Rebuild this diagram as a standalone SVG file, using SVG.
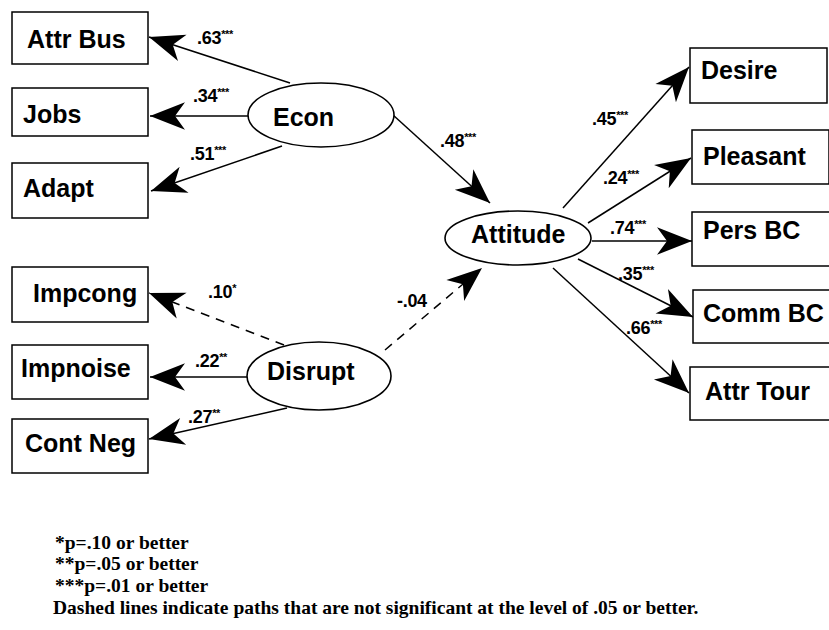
<svg xmlns="http://www.w3.org/2000/svg" width="829" height="630" viewBox="0 0 829 630">
  <style>
    .box { fill: #fff; stroke: #000; stroke-width: 1.5; }
    .lat { fill: #fff; stroke: #000; stroke-width: 1.6; }
    .lbl { font-family: "Liberation Sans", Arial, sans-serif; font-weight: bold; font-size: 25px; fill: #000; }
    .coef { font-family: "Liberation Sans", Arial, sans-serif; font-weight: bold; font-size: 18px; fill: #000; letter-spacing: -0.3px; }
    .star { font-size: 11px; }
    .path { fill: none; stroke: #000; stroke-width: 1.5; marker-end: url(#head); }
    .dash { stroke-dasharray: 9 7; }
    .note { font-family: "Liberation Serif", "Times New Roman", serif; font-weight: bold; font-size: 19.5px; fill: #000; }
  </style>
  <defs>
    <marker id="head" markerUnits="userSpaceOnUse" markerWidth="40" markerHeight="40" viewBox="-30 -15 32 30" refX="0" refY="0" orient="auto">
      <path d="M0,0 L-28,-11 L-20,0 L-28,11 Z" fill="#000"/>
    </marker>
  </defs>

  <!-- paths -->
  <g id="connectors">
    <line class="path" x1="290" y1="83" x2="149" y2="37"/>
    <line class="path" x1="248" y1="116" x2="150" y2="116"/>
    <line class="path" x1="282" y1="146" x2="151" y2="191"/>
    <line class="path" x1="393" y1="115" x2="490" y2="203"/>
    <line class="path dash" x1="284" y1="345" x2="149" y2="293"/>
    <line class="path" x1="247" y1="377" x2="150" y2="377"/>
    <line class="path" x1="287" y1="408" x2="149" y2="439"/>
    <line class="path dash" x1="385" y1="350" x2="482" y2="268"/>
    <line class="path" x1="563" y1="208" x2="689" y2="67"/>
    <line class="path" x1="588" y1="223" x2="691" y2="158"/>
    <line class="path" x1="592" y1="241" x2="692" y2="241"/>
    <line class="path" x1="578" y1="259" x2="693" y2="317"/>
    <line class="path" x1="553" y1="268" x2="689" y2="393"/>
  </g>

  <!-- path coefficients -->
  <g id="coefficients">
    <text class="coef" x="197" y="44">.63<tspan class="star" dy="-6">***</tspan></text>
    <text class="coef" x="193" y="102">.34<tspan class="star" dy="-6">***</tspan></text>
    <text class="coef" x="190" y="160">.51<tspan class="star" dy="-6">***</tspan></text>
    <text class="coef" x="440" y="147">.48<tspan class="star" dy="-6">***</tspan></text>
    <text class="coef" x="208" y="298">.10<tspan class="star" dy="-6">*</tspan></text>
    <text class="coef" x="195" y="367">.22<tspan class="star" dy="-6">**</tspan></text>
    <text class="coef" x="188" y="423">.27<tspan class="star" dy="-6">**</tspan></text>
    <text class="coef" x="397" y="307">-.04</text>
    <text class="coef" x="592" y="125">.45<tspan class="star" dy="-6">***</tspan></text>
    <text class="coef" x="603" y="184">.24<tspan class="star" dy="-6">***</tspan></text>
    <text class="coef" x="610" y="234">.74<tspan class="star" dy="-6">***</tspan></text>
    <text class="coef" x="618" y="280">.35<tspan class="star" dy="-6">***</tspan></text>
    <text class="coef" x="626" y="334">.66<tspan class="star" dy="-6">***</tspan></text>
  </g>

  <!-- observed indicators -->
  <g id="attr-bus"><rect class="box" x="12" y="12" width="136" height="52"/><text class="lbl" x="27" y="48">Attr Bus</text></g>
  <g id="jobs"><rect class="box" x="12" y="88" width="136" height="48"/><text class="lbl" x="23" y="123">Jobs</text></g>
  <g id="adapt"><rect class="box" x="12" y="163" width="136" height="55"/><text class="lbl" x="23" y="197">Adapt</text></g>
  <g id="impcong"><rect class="box" x="12" y="267" width="136" height="55"/><text class="lbl" x="33" y="302">Impcong</text></g>
  <g id="impnoise"><rect class="box" x="12" y="345" width="136" height="54"/><text class="lbl" x="21" y="377">Impnoise</text></g>
  <g id="cont-neg"><rect class="box" x="12" y="419" width="136" height="54"/><text class="lbl" x="25" y="452">Cont Neg</text></g>

  <g id="desire"><rect class="box" x="690" y="48" width="137" height="55"/><text class="lbl" x="701" y="79">Desire</text></g>
  <g id="pleasant"><rect class="box" x="692" y="130" width="137" height="54"/><text class="lbl" x="703" y="165">Pleasant</text></g>
  <g id="pers-bc"><rect class="box" x="692" y="212" width="140" height="54"/><text class="lbl" x="703" y="239">Pers BC</text></g>
  <g id="comm-bc"><rect class="box" x="693" y="290" width="140" height="53"/><text class="lbl" x="703" y="322">Comm BC</text></g>
  <g id="attr-tour"><rect class="box" x="690" y="367" width="140" height="53"/><text class="lbl" x="705" y="400">Attr Tour</text></g>

  <!-- latent factors -->
  <g id="econ"><ellipse class="lat" cx="321" cy="115" rx="73" ry="32"/><text class="lbl" x="273" y="126">Econ</text></g>
  <g id="disrupt"><ellipse class="lat" cx="319" cy="376" rx="72" ry="34"/><text class="lbl" x="267" y="380">Disrupt</text></g>
  <g id="attitude"><ellipse class="lat" cx="518" cy="238" rx="73" ry="27"/><text class="lbl" x="471" y="243">Attitude</text></g>

  <!-- significance notes -->
  <g id="notes">
    <text class="note" x="55" y="549">*p=.10 or better</text>
    <text class="note" x="55" y="570">**p=.05 or better</text>
    <text class="note" x="55" y="592">***p=.01 or better</text>
    <text class="note" x="53" y="614">Dashed lines indicate paths that are not significant at the level of .05 or better.</text>
  </g>
</svg>
